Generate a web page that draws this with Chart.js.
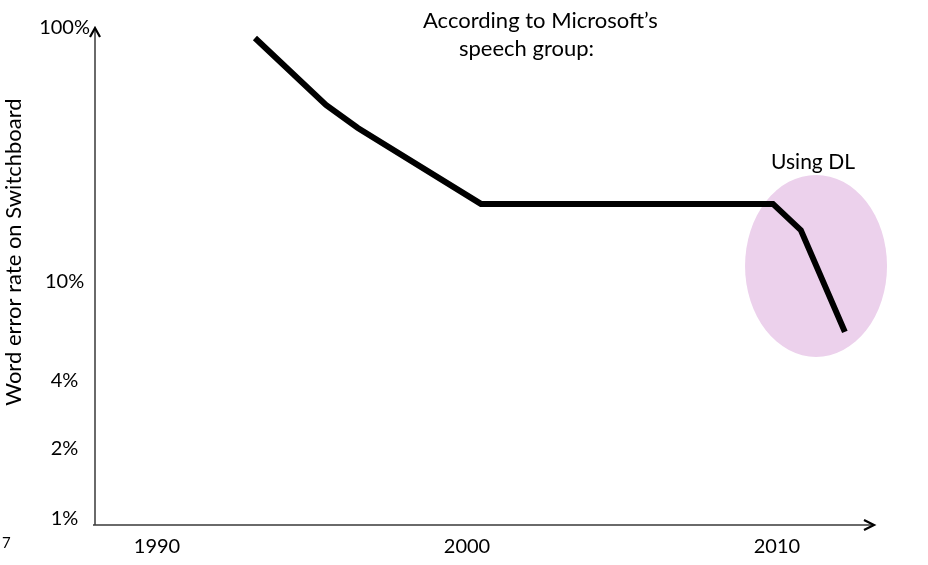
<!DOCTYPE html>
<html>
<head>
<meta charset="utf-8">
<script src="https://cdn.jsdelivr.net/npm/chart.js@4/dist/chart.umd.min.js"></script>
<style>
  html, body { margin: 0; padding: 0; background: #fff; }
  #wrap { width: 928px; height: 565px; position: relative; }
</style>
</head>
<body>
<div id="wrap"><canvas id="c" width="928" height="565"></canvas></div>
<script>
// ---- Data ----
const years = [1993.16, 1995.45, 1996.48, 2000.45, 2009.87, 2010.77, 2012.19];
const errorRates = [91.3, 49.8, 40.4, 20.3, 20.3, 16.0, 6.36];
const xTickValues = [1990, 2000, 2010];
const xTickLabels = ['1990', '2000', '2010'];
const yTickValues = [1.17, 2.2, 4.1, 10, 100];
const yTickLabels = ['1%', '2%', '4%', '10%', '100%'];
const yAxisTitle = 'Word error rate on Switchboard';
const headerLines = ['According to Microsoft\u2019s', 'speech group:'];
const highlightLabel = 'Using DL';
// highlighted region (data units): years and error-rate range
const highlightYears = [2008.97, 2013.55];
const highlightRates = [5.07, 26.4];
const slideNumber = '7';

const FONT = 'Lato, "Open Sans", "Noto Sans", sans-serif';

const decorPlugin = {
  id: 'decor',
  beforeDatasetsDraw(chart) {
    const {ctx, scales: {x, y}} = chart;
    const x0 = x.getPixelForValue(highlightYears[0]);
    const x1 = x.getPixelForValue(highlightYears[1]);
    const y0 = y.getPixelForValue(highlightRates[1]);
    const y1 = y.getPixelForValue(highlightRates[0]);
    ctx.save();
    ctx.fillStyle = '#ECD1EC';
    ctx.beginPath();
    ctx.ellipse((x0 + x1) / 2, (y0 + y1) / 2, (x1 - x0) / 2, (y1 - y0) / 2, 0, 0, Math.PI * 2);
    ctx.fill();
    ctx.restore();
  },
  afterDraw(chart) {
    const {ctx, chartArea: a} = chart;
    ctx.save();
    // axes
    ctx.strokeStyle = '#3a3a3a';
    ctx.lineWidth = 1.5;
    ctx.beginPath();
    ctx.moveTo(a.left - 2, a.bottom);
    ctx.lineTo(a.right, a.bottom);
    ctx.moveTo(a.left, a.bottom);
    ctx.lineTo(a.left, a.top);
    ctx.stroke();
    // arrow heads
    ctx.strokeStyle = '#000';
    ctx.lineWidth = 2.2;
    ctx.beginPath();
    ctx.moveTo(a.left - 5, a.top + 9);
    ctx.lineTo(a.left, a.top);
    ctx.lineTo(a.left + 5, a.top + 9);
    ctx.moveTo(a.right - 10, a.bottom - 5);
    ctx.lineTo(a.right, a.bottom);
    ctx.lineTo(a.right - 10, a.bottom + 5);
    ctx.stroke();

    // texts
    ctx.fillStyle = '#000';
    ctx.font = '22px ' + FONT;
    ctx.textBaseline = 'middle';
    ctx.textAlign = 'left';
    ctx.fillText(headerLines[0], 423, 21);
    ctx.fillText(headerLines[1], 459, 49);
    ctx.font = '21px ' + FONT;
    ctx.textAlign = 'center';
    ctx.fillText(highlightLabel, 813, 162);

    // y axis title
    ctx.font = '22px ' + FONT;
    ctx.save();
    ctx.translate(14, 252);
    ctx.rotate(-Math.PI / 2);
    ctx.textAlign = 'center';
    ctx.fillText(yAxisTitle, 0, 0);
    ctx.restore();

    // slide number
    ctx.font = '15px ' + FONT;
    ctx.textAlign = 'left';
    ctx.fillText(slideNumber, 2, 543);
    ctx.restore();
  }
};

new Chart(document.getElementById('c'), {
  type: 'line',
  data: {
    datasets: [{
      data: years.map((yr, i) => ({x: yr, y: errorRates[i]})),
      borderColor: '#000',
      borderWidth: 6,
      pointRadius: 0,
      fill: false,
      tension: 0,
      borderJoinStyle: 'miter',
      borderCapStyle: 'butt'
    }]
  },
  options: {
    responsive: false,
    animation: false,
    devicePixelRatio: 1,
    layout: { padding: { top: 28, right: 54, left: 0, bottom: 0 } },
    plugins: { legend: { display: false }, tooltip: { enabled: false } },
    scales: {
      x: {
        type: 'linear',
        min: 1988,
        max: 2013.13,
        bounds: 'data',
        grid: { display: false, drawTicks: false },
        border: { display: false },
        afterBuildTicks: s => { s.ticks = xTickValues.map(v => ({value: v})); },
        afterFit: s => { s.height = 40; },
        ticks: {
          padding: 10,
          autoSkip: false,
          maxRotation: 0,
          color: '#000',
          font: { family: FONT, size: 20 },
          callback: (v, i) => xTickLabels[i]
        }
      },
      y: {
        type: 'logarithmic',
        min: 1.105,
        max: 100,
        bounds: 'data',
        grid: { display: false, drawTicks: false },
        border: { display: false },
        afterBuildTicks: s => { s.ticks = yTickValues.map(v => ({value: v})); },
        afterFit: s => { s.width = 95; },
        ticks: {
          padding: 5,
          crossAlign: 'center',
          autoSkip: false,
          color: '#000',
          font: { family: FONT, size: 20 },
          callback: (v, i) => yTickLabels[i]
        }
      }
    }
  },
  plugins: [decorPlugin]
});
</script>
</body>
</html>
